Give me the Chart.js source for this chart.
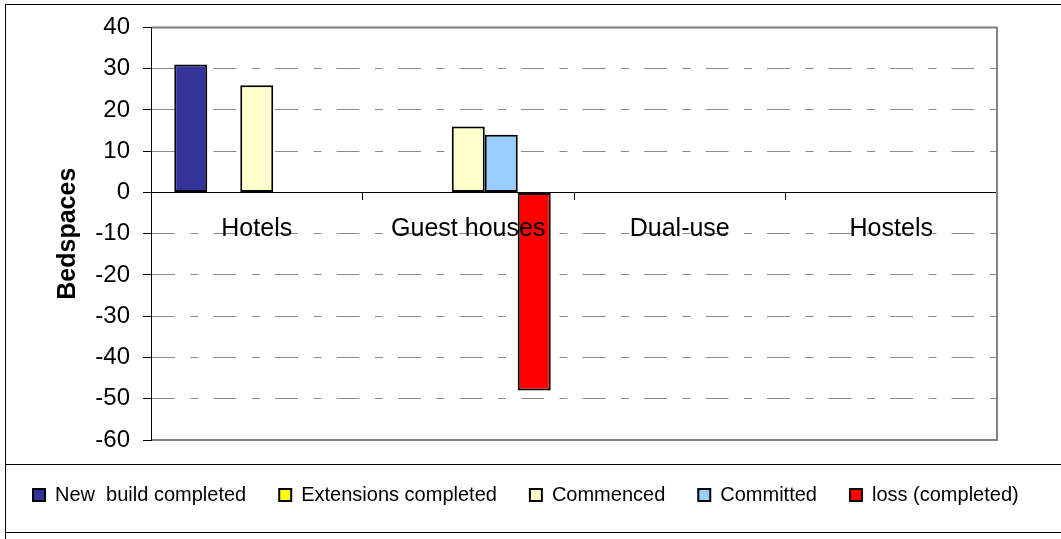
<!DOCTYPE html>
<html>
<head>
<meta charset="utf-8">
<script src="https://cdn.jsdelivr.net/npm/chart.js@4.4.1/dist/chart.umd.min.js"></script>
<style>
  html, body { margin: 0; padding: 0; background: #fff; }
  canvas { display: block; }
</style>
</head>
<body>
<canvas id="chart" width="1061" height="539"></canvas>
<script>
// Bedspaces by accommodation type
const categories = ['Hotels', 'Guest houses', 'Dual-use', 'Hostels'];
const seriesNames = ['New  build completed', 'Extensions completed', 'Commenced', 'Committed', 'loss (completed)'];
const newBuildCompleted = [31, 0, 0, 0];
const extensionsCompleted = [0, 0, 0, 0];
const commenced = [26, 16, 0, 0];
const committed = [0, 14, 0, 0];
const lossCompleted = [0, -48, 0, 0];
const yTickValues = [40, 30, 20, 10, 0, -10, -20, -30, -40, -50, -60];

const seriesValues = [newBuildCompleted, extensionsCompleted, commenced, committed, lossCompleted];
const seriesColors = ['#333399', '#FFFF00', '#FFFFCC', '#99CCFF', '#FF0000'];

const FONT = "'Liberation Sans', Arial, sans-serif";

// Outer frame, legend separators and the grey plot-area outline
const framePlugin = {
  id: 'frame',
  beforeDraw(chart) {
    const ctx = chart.ctx;
    ctx.save();
    ctx.fillStyle = '#fff';
    ctx.fillRect(0, 0, chart.width, chart.height);
    ctx.fillStyle = '#000';
    ctx.fillRect(5, 4, chart.width - 5, 1);
    ctx.fillRect(5, 4, 1, chart.height - 4);
    ctx.fillRect(5, 464, chart.width - 5, 1);
    ctx.fillRect(5, 532, chart.width - 5, 1);
    ctx.restore();
  },
  beforeDatasetsDraw(chart) {
    const { left, top, right, bottom } = chart.chartArea;
    const ctx = chart.ctx;
    ctx.save();
    ctx.strokeStyle = '#808080';
    ctx.lineWidth = 2;
    ctx.beginPath();
    ctx.moveTo(left + 1, top);
    ctx.lineTo(right, top);
    ctx.lineTo(right, bottom);
    ctx.lineTo(left + 1, bottom);
    ctx.stroke();
    ctx.restore();
  }
};

const datasets = seriesNames.map((name, i) => ({
  label: name,
  data: seriesValues[i],
  backgroundColor: seriesColors[i],
  borderColor: '#000',
  borderWidth: 2,
  borderSkipped: false,
  inflateAmount: 0,
  barPercentage: 1,
  categoryPercentage: 0.78
}));

new Chart(document.getElementById('chart'), {
  type: 'bar',
  data: { labels: categories, datasets },
  plugins: [framePlugin],
  options: {
    responsive: false,
    animation: false,
    layout: { padding: { left: 0, right: 0, top: 26, bottom: 24 } },
    plugins: {
      tooltip: { enabled: false },
      legend: {
        position: 'bottom',
        align: 'start',
        title: { display: true, text: '', padding: 0, font: { size: 10, lineHeight: 1.2 } },
        labels: {
          color: '#000',
          font: { family: FONT, size: 20 },
          boxWidth: 12,
          boxHeight: 12,
          padding: 33
        }
      }
    },
    scales: {
      x: {
        type: 'category',
        position: { y: 0 },
        offset: true,
        grid: {
          offset: true,
          drawOnChartArea: false,
          drawTicks: true,
          tickLength: 7,
          tickColor: '#000',
          tickWidth: 1
        },
        border: { display: true, color: '#000', width: 1 },
        ticks: {
          color: '#000',
          font: { family: FONT, size: 25 },
          padding: 15,
          maxRotation: 0,
          autoSkip: false,
          z: 1
        }
      },
      y: {
        position: 'left',
        min: Math.min(...yTickValues),
        max: Math.max(...yTickValues),
        afterBuildTicks(scale) {
          scale.ticks = yTickValues.map(v => ({ value: v }));
        },
        afterFit(scale) { scale.width = 151; },
        grid: {
          color: '#8a8a8a',
          lineWidth: 1,
          drawTicks: true,
          tickLength: 8,
          tickColor: '#000',
          tickWidth: 1
        },
        border: { display: true, color: '#000', width: 1, dash: [23, 15.5, 8, 15] },
        ticks: {
          color: '#000',
          font: { family: FONT, size: 24 },
          padding: 13
        },
        title: {
          display: true,
          text: 'Bedspaces',
          color: '#000',
          font: { family: FONT, size: 25, weight: 'bold', lineHeight: 1.2 },
          padding: { top: 53, bottom: 0 }
        }
      },
      yPad: {
        position: 'right',
        display: true,
        grid: { display: false, drawTicks: false },
        border: { display: false },
        ticks: { display: false },
        afterFit(scale) { scale.width = 64; }
      }
    }
  }
});
</script>
</body>
</html>
